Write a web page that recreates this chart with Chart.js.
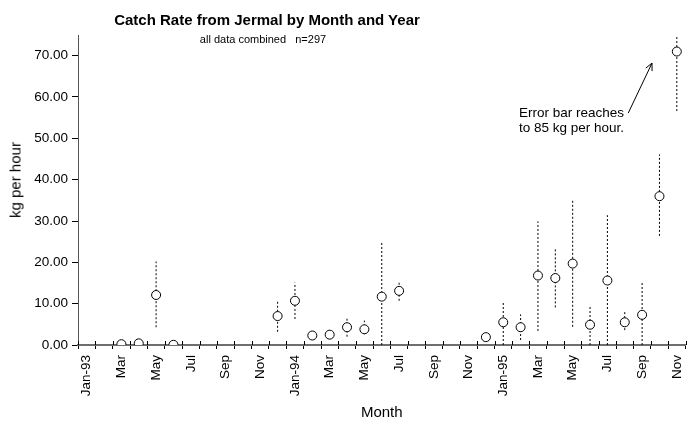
<!DOCTYPE html>
<html>
<head>
<meta charset="utf-8">
<script src="https://cdn.jsdelivr.net/npm/chart.js@4.4.1/dist/chart.umd.min.js"></script>
<style>
  html, body { margin: 0; padding: 0; background: #fff; overflow: hidden; }
  #wrap { position: relative; width: 691px; height: 428px; font-family: "Liberation Sans", Arial, sans-serif; color: #000; }
  canvas { position: absolute; left: 0; top: 0; }
  .txt { position: absolute; white-space: nowrap; line-height: 1; }
  #title { left: 267px; top: 12px; font-size: 15px; font-weight: bold; transform: translateX(-50%); }
  #subtitle { left: 263px; top: 34px; font-size: 11px; transform: translateX(-50%); }
  #ytitle { left: 15px; top: 180px; font-size: 15px; transform: translate(-50%, -50%) rotate(-90deg); }
  #note { left: 519px; top: 105px; font-size: 13.5px; line-height: 15px; }
</style>
</head>
<body>
<div id="wrap">
  <canvas id="c" width="691" height="428"></canvas>
  <div class="txt" id="title">Catch Rate from Jermal by Month and Year</div>
  <div class="txt" id="subtitle">all data combined&nbsp;&nbsp;&nbsp;n=297</div>
  <div class="txt" id="ytitle">kg per hour</div>
  <div class="txt" id="note">Error bar reaches<br>to 85 kg per hour.</div>
</div>
<script>
// ---- data ----
const months = [
  'Jan-93','Feb-93','Mar-93','Apr-93','May-93','Jun-93','Jul-93','Aug-93','Sep-93','Oct-93','Nov-93','Dec-93',
  'Jan-94','Feb-94','Mar-94','Apr-94','May-94','Jun-94','Jul-94','Aug-94','Sep-94','Oct-94','Nov-94','Dec-94',
  'Jan-95','Feb-95','Mar-95','Apr-95','May-95','Jun-95','Jul-95','Aug-95','Sep-95','Oct-95','Nov-95'
];
const tickLabels = [
  'Jan-93','','Mar','','May','','Jul','','Sep','','Nov','',
  'Jan-94','','Mar','','May','','Jul','','Sep','','Nov','',
  'Jan-95','','Mar','','May','','Jul','','Sep','','Nov'
];
const meanRate = [
  null, null, 0.2, 0.4, 12.1, 0.05, null, null, null, null, null, 7.0,
  10.7, 2.3, 2.5, 4.3, 3.8, 11.7, 13.1, null, null, null, null, 1.9,
  5.5, 4.3, 16.8, 16.2, 19.7, 4.9, 15.6, 5.5, 7.3, 36.0, 71.0
];
const lowBar = [
  null, null, null, null, 4.3, null, null, null, null, null, null, 3.2,
  6.3, null, null, 2.0, 2.6, 0, 10.7, null, null, null, null, null,
  0, 1.2, 3.4, 9.1, 4.4, 0, 0, 3.6, 0, 26.4, 56.6
];
const highBar = [
  null, null, null, null, 20.2, null, null, null, null, null, null, 10.7,
  15.1, null, null, 6.6, 5.9, 24.7, 15.2, null, null, null, null, null,
  10.5, 7.4, 29.9, 23.2, 35.2, 9.7, 31.4, 8.3, 15.0, 46.1, 85
];
const yTicks = [0, 10, 20, 30, 40, 50, 60, 70];

// error bar segments built from the arrays (null separates segments)
const errData = [];
months.forEach((m, i) => {
  if (lowBar[i] !== null && highBar[i] !== null) {
    errData.push({x: m, y: lowBar[i]}, {x: m, y: highBar[i]}, {x: m, y: null});
  }
});

const FONT = "'Liberation Sans', Arial, sans-serif";

const extras = {
  id: 'extras',
  afterDatasetsDraw(chart) {
    const ctx = chart.ctx;
    const xs = chart.scales.x, ys = chart.scales.y;
    ctx.save();
    // inward half of the x tick marks (ticks cross the axis)
    ctx.strokeStyle = '#000';
    ctx.lineWidth = 1;
    for (let i = 0; i <= months.length; i++) {
      const px = Math.round(xs.getPixelForValue(i - 0.5)) + 0.5;
      ctx.beginPath();
      ctx.moveTo(px, ys.bottom - 4);
      ctx.lineTo(px, ys.bottom);
      ctx.stroke();
    }
    // annotation arrow
    const x1 = xs.getPixelForValue(31.2), y1 = ys.getPixelForValue(56.1);
    const x2 = xs.getPixelForValue(32.57), y2 = ys.getPixelForValue(68.2);
    ctx.beginPath();
    ctx.moveTo(x1, y1); ctx.lineTo(x2, y2); ctx.stroke();
    const ang = Math.atan2(y2 - y1, x2 - x1);
    const L = 8, spread = 0.45;
    ctx.beginPath();
    ctx.moveTo(x2 - L * Math.cos(ang - spread), y2 - L * Math.sin(ang - spread));
    ctx.lineTo(x2, y2);
    ctx.lineTo(x2 - L * Math.cos(ang + spread), y2 - L * Math.sin(ang + spread));
    ctx.stroke();
    ctx.restore();
  }
};

new Chart(document.getElementById('c'), {
  type: 'line',
  data: {
    labels: months,
    datasets: [
      {
        label: 'error',
        data: errData,
        borderColor: '#000',
        borderWidth: 1,
        borderDash: [2, 2],
        pointRadius: 0,
        spanGaps: false,
        fill: false,
        order: 2
      },
      {
        label: 'mean',
        data: meanRate,
        showLine: false,
        pointRadius: 4.5,
        pointBackgroundColor: '#fff',
        pointBorderColor: '#000',
        pointBorderWidth: 1,
        order: 1
      }
    ]
  },
  options: {
    responsive: false,
    animation: false,
    devicePixelRatio: 1,
    layout: { padding: { top: 35, left: 0, right: 0, bottom: 0 } },
    plugins: { legend: { display: false }, tooltip: { enabled: false }, title: { display: false } },
    scales: {
      x: {
        type: 'category',
        offset: true,
        grid: { offset: true, drawOnChartArea: false, drawTicks: true, tickLength: 4, color: '#000', tickColor: '#000' },
        border: { display: true, color: '#6e6e6e', width: 2 },
        ticks: {
          autoSkip: false, maxRotation: 90, minRotation: 90, padding: 6,
          color: '#000', font: { family: FONT, size: 13.5 },
          callback: (v, i) => tickLabels[i]
        },
        title: { display: true, text: 'Month', color: '#000', font: { family: FONT, size: 15 }, padding: { top: 4, bottom: 6 } },
        afterFit(s) { s.height = 83; s.paddingLeft = 0; s.paddingRight = 0; }
      },
      y: {
        min: 0, max: 75,
        grid: { drawOnChartArea: false, drawTicks: true, tickLength: 6, color: '#000', tickColor: '#000' },
        border: { display: true, color: '#555', width: 1 },
        afterBuildTicks(s) { s.ticks = yTicks.map(v => ({value: v})); },
        ticks: {
          padding: 4, color: '#000', font: { family: FONT, size: 13.5 },
          callback: v => Number(v).toFixed(2)
        },
        afterFit(s) { s.width = 78; }
      }
    }
  },
  plugins: [extras]
});
</script>
</body>
</html>
